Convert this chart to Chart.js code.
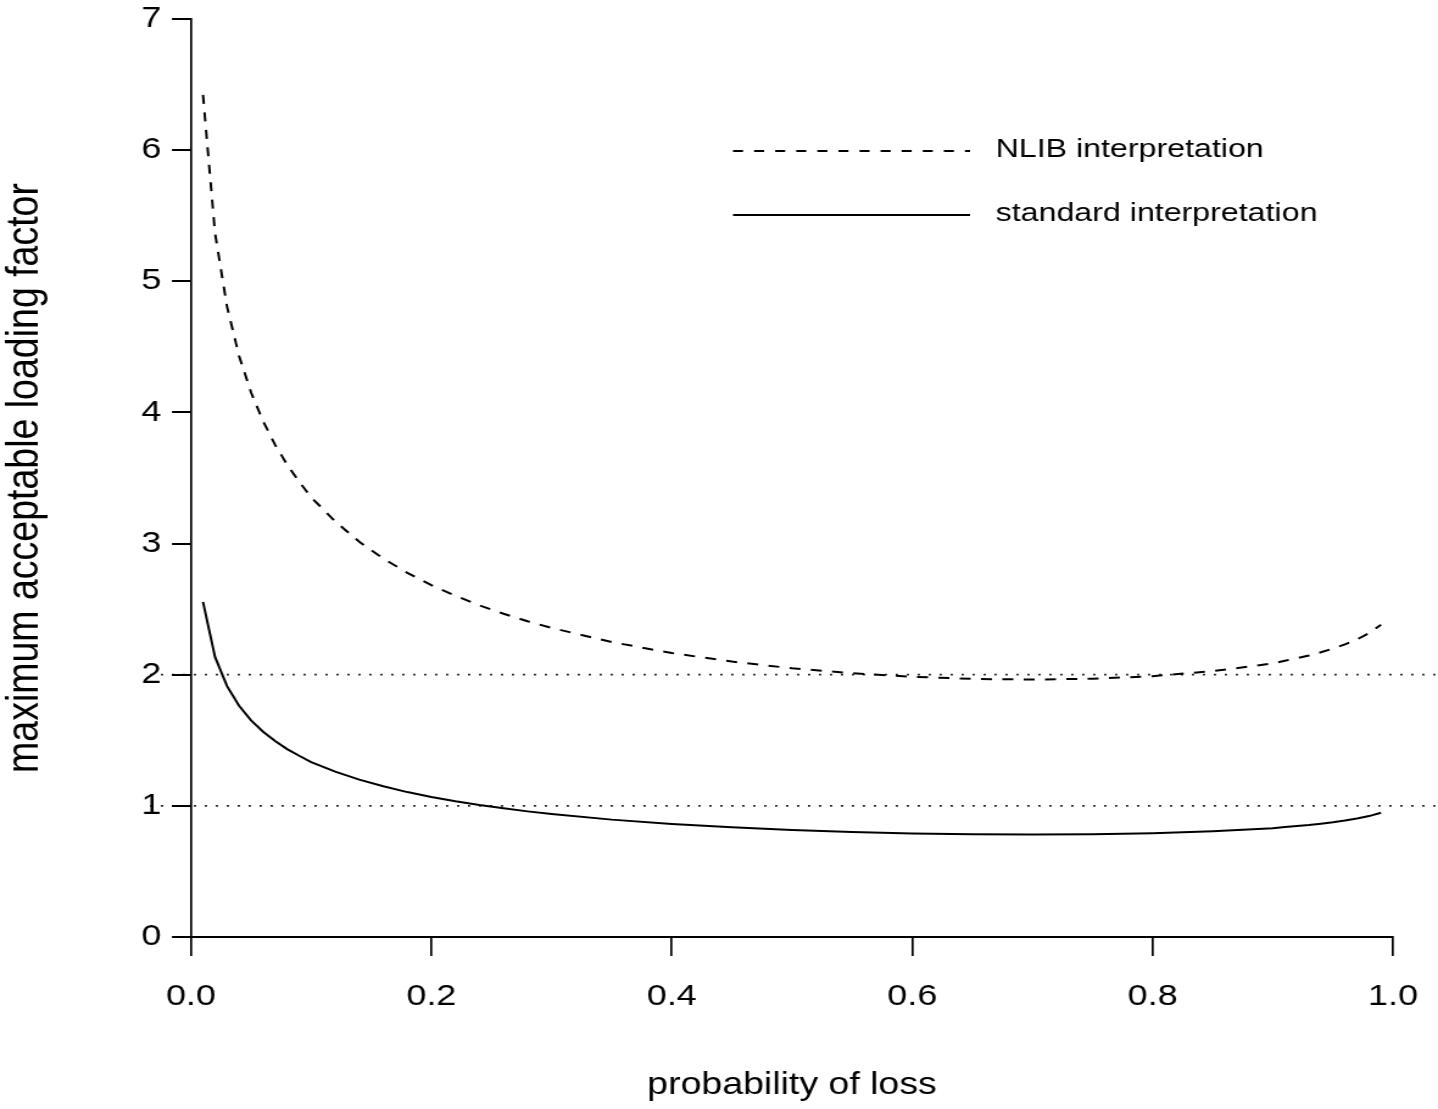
<!DOCTYPE html>
<html>
<head>
<meta charset="utf-8">
<script src="https://cdn.jsdelivr.net/npm/chart.js@4.4.1/dist/chart.umd.min.js"></script>
<style>
  html, body { margin: 0; padding: 0; background: #fff; }
  canvas { display: block; }
</style>
</head>
<body>
<canvas id="c" width="1180" height="1109" style="width:1438px;height:1109px;"></canvas>
<script>
// ---- data ----
const probs = [0.01,0.02,0.03,0.04,0.05,0.06,0.07,0.08,0.09,0.10,
               0.12,0.14,0.16,0.18,0.20,0.22,0.24,0.26,0.28,0.30,
               0.35,0.40,0.45,0.50,0.55,0.60,0.65,0.70,0.75,0.80,0.85,0.90,
               0.91,0.92,0.93,0.94,0.95,0.96,0.97,0.98,0.99];
const standardVals = [2.555,2.136,1.913,1.763,1.652,1.565,1.494,1.433,1.382,1.334,
                      1.261,1.200,1.149,1.105,1.068,1.035,1.006,0.981,0.958,0.938,
                      0.895,0.862,0.836,0.815,0.800,0.789,0.783,0.781,0.784,0.792,0.807,0.830,
                      0.838,0.846,0.854,0.864,0.875,0.888,0.903,0.922,0.947];
const nlibVals = [6.421,5.368,4.807,4.431,4.152,3.933,3.753,3.602,3.472,3.353,
                  3.169,3.014,2.886,2.777,2.683,2.602,2.529,2.465,2.408,2.357,
                  2.249,2.165,2.100,2.049,2.011,1.984,1.968,1.963,1.969,1.989,2.027,2.086,
                  2.107,2.126,2.147,2.171,2.199,2.231,2.269,2.317,2.381];
const refLevels = [1, 2];
const refSpan = [-0.034, 1.038];
const xTicks = [0, 0.2, 0.4, 0.6, 0.8, 1.0];
const yTicks = [0, 1, 2, 3, 4, 5, 6, 7];
const seriesNames = ['NLIB interpretation', 'standard interpretation'];
const xTitle = 'probability of loss';
const yTitle = 'maximum acceptable loading factor';

const FONT = "'Liberation Sans', Arial, Helvetica, sans-serif";

const toXY = (xs, ys) => xs.map((x, i) => ({ x: x, y: ys[i] }));

const datasets = [];
refLevels.forEach(lv => {
  datasets.push({
    data: refSpan.map(x => ({ x: x, y: lv })),
    borderColor: '#000', borderWidth: 1.8, borderDash: [1.6, 7.4],
    pointRadius: 0, tension: 0, clip: false, fill: false
  });
});
datasets.push({
  label: seriesNames[0],
  data: toXY(probs, nlibVals),
  borderColor: '#000', borderWidth: 2, borderDash: [9, 8.5],
  pointRadius: 0, tension: 0, fill: false
});
datasets.push({
  label: seriesNames[1],
  data: toXY(probs, standardVals),
  borderColor: '#000', borderWidth: 2,
  pointRadius: 0, tension: 0, fill: false
});

const legendPlugin = {
  id: 'rLegend',
  afterDraw(chart) {
    const ctx = chart.ctx;
    const items = [
      { label: seriesNames[0], dash: [8.2, 9.1], y: 151 },
      { label: seriesNames[1], dash: [], y: 215 }
    ];
    ctx.save();
    items.forEach(it => {
      ctx.beginPath();
      ctx.setLineDash(it.dash);
      ctx.lineWidth = 2;
      ctx.strokeStyle = '#000';
      ctx.moveTo(601.5, it.y);
      ctx.lineTo(796, it.y);
      ctx.stroke();
      ctx.setLineDash([]);
      ctx.fillStyle = '#000';
      ctx.font = '26.4px ' + FONT;
      ctx.textAlign = 'left';
      ctx.textBaseline = 'alphabetic';
      ctx.fillText(it.label, 817, it.y + 5.5);
    });
    ctx.restore();
  }
};

const noPad = s => { s.paddingLeft = 0; s.paddingRight = 0; s.paddingTop = 0; s.paddingBottom = 0; };

new Chart(document.getElementById('c'), {
  type: 'line',
  data: { datasets: datasets },
  plugins: [legendPlugin],
  options: {
    responsive: false,
    animation: false,
    devicePixelRatio: 1,
    layout: { padding: { top: 19, right: 36.9, left: 0, bottom: 0 } },
    plugins: { legend: { display: false }, tooltip: { enabled: false } },
    scales: {
      x: {
        type: 'linear', min: 0, max: 1,
        afterBuildTicks: s => { s.ticks = xTicks.map(v => ({ value: v })); },
        afterFit: s => { s.height = 172; noPad(s); },
        ticks: {
          callback: v => Number(v).toFixed(1),
          font: { family: FONT, size: 29.5 }, color: '#000',
          padding: 23, maxRotation: 0, autoSkip: false
        },
        grid: { drawOnChartArea: false, drawTicks: true, tickLength: 19, color: '#000', lineWidth: 1.7 },
        border: { display: true, color: '#000', width: 2 },
        title: {
          display: true, text: xTitle, color: '#000',
          font: { family: FONT, size: 30.75, lineHeight: 1.2 },
          padding: { top: 0, bottom: 5 }
        }
      },
      y: {
        type: 'linear', min: 0, max: 7,
        afterBuildTicks: s => { s.ticks = yTicks.map(v => ({ value: v })); },
        afterFit: s => { s.width = 156.7; noPad(s); },
        ticks: {
          callback: v => String(v),
          font: { family: FONT, size: 29.5 }, color: '#000',
          padding: 8.8, autoSkip: false
        },
        grid: { drawOnChartArea: false, drawTicks: true, tickLength: 15.6, color: '#000', lineWidth: 2 },
        border: { display: true, color: '#000', width: 1.7 },
        title: {
          display: true, text: yTitle, color: '#000',
          font: { family: FONT, size: 37.5, lineHeight: 1.0 },
          padding: { top: 1.5, bottom: 0 }
        }
      }
    }
  }
});
</script>
</body>
</html>
